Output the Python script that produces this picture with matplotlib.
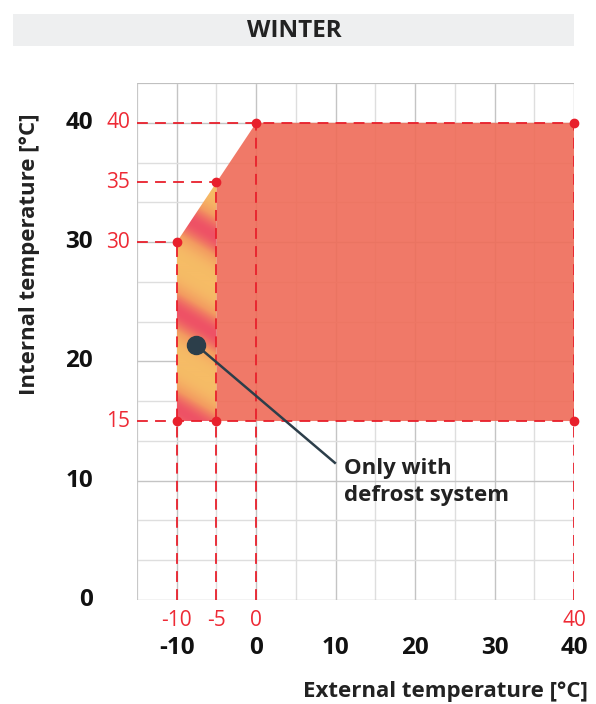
import numpy as np
import matplotlib
matplotlib.use("Agg")
import matplotlib.pyplot as plt
from matplotlib.patches import Polygon, Rectangle
from matplotlib.colors import LinearSegmentedColormap
import matplotlib.transforms as mtransforms

plt.rcParams['font.family'] = ['Open Sans', 'DejaVu Sans']

# ---- data ----
title = "WINTER"
x_label = "External temperature [°C]"
y_label = "Internal temperature [°C]"
ext_ticks = [-10, 0, 10, 20, 30, 40]
int_ticks = [0, 10, 20, 30, 40]
defrost_x = [-10, -10, -5, -5]
defrost_y = [15, 30, 35, 15]
main_x = [-5, -5, 0, 40, 40]
main_y = [15, 35, 40, 40, 15]
pts_x = [-10, -5, 0, 40, -10, -5, 40]
pts_y = [30, 35, 40, 40, 15, 15, 15]
red_x_labels = [-10, -5, 0, 40]
red_y_labels = [15, 30, 35, 40]
note_text = "Only with\ndefrost system"
note_xy = (-7.6, 21.4)
note_text_xy = (9.9, 11.5)

XMIN, XMAX = -15, 40
YMIN, YMAX = 0, 130 / 3

RED = '#E8202C'
RED_TXT = '#EE2A35'
FILL = '#EF6B57'
DARK = '#2C3E4A'

W, H = 596, 704
fig = plt.figure(figsize=(W / 100, H / 100), dpi=100)

# title band
fig.patches.append(Rectangle((13 / W, 1 - 46 / H), (574 - 13) / W, 32 / H,
                             transform=fig.transFigure, facecolor='#EEEFF0',
                             edgecolor='none', zorder=0))
fig.text(294 / W, 1 - 31 / H, title, ha='center', va='center',
         fontsize=17.5, fontweight='bold', color='#222222')

ax = fig.add_axes([137 / W, 1 - 600 / H, 437 / W, 517 / H])
ax.set_xlim(XMIN, XMAX)
ax.set_ylim(YMIN, YMAX)
for s in ax.spines.values():
    s.set_visible(False)
ax.set_xticks([])
ax.set_yticks([])

# grid
for xv in np.arange(-15, 40.1, 5):
    major = (xv % 10 == 0)
    ax.axvline(xv, color='#C4C4C4' if major else '#DEDEDE', lw=1.0, zorder=1)
for k in range(0, 14):
    yv = k * 10 / 3
    major = (k % 3 == 0)
    ax.axhline(yv, color='#C4C4C4' if major else '#DEDEDE', lw=1.0, zorder=1)
ax.axhline(YMAX, color='#BBBBBB', lw=1.2, zorder=1)
ax.axvline(XMIN, color='#C4C4C4', lw=1.2, zorder=1)

# main fill
ax.add_patch(Polygon(list(zip(main_x, main_y)), closed=True, facecolor=FILL,
                     edgecolor='none', alpha=0.9, zorder=2))

# defrost gradient
cmap = LinearSegmentedColormap.from_list('stripe', ['#F6BC66', '#F39A60', '#EE5266'])
gx = np.linspace(-10, -5, 200)
gy = np.linspace(15, 35, 600)
GX, GY = np.meshgrid(gx, gy)
s = -GY * 11.92 - 0.6 * GX * 7.94
s0 = -31.4 * 11.92 - 0.6 * (-7.5) * 7.94
val = (0.5 + 0.5 * np.cos(2 * np.pi * (s - s0) / 98.0)) ** 1.6
im = ax.imshow(val, extent=(-10, -5, 15, 35), origin='lower', cmap=cmap,
               aspect='auto', zorder=2, interpolation='bilinear', vmin=0, vmax=1)
clip = Polygon(list(zip(defrost_x, defrost_y)), closed=True, facecolor='none',
               edgecolor='none', transform=ax.transData)
ax.add_patch(clip)
im.set_clip_path(clip)

# red dashed guides
dash = dict(color=RED, lw=1.3, dashes=(6, 4), zorder=3)
ax.plot([XMIN, 40], [40, 40], **dash)
ax.plot([XMIN, -5], [35, 35], **dash)
ax.plot([XMIN, -10], [30, 30], **dash)
ax.plot([XMIN, 40], [15, 15], **dash)
ax.plot([-10, -10], [0, 30], **dash)
ax.plot([-5, -5], [0, 35], **dash)
ax.plot([0, 0], [0, 40], **dash)
ax.plot([40, 40], [0, 40], **dash)
ax.plot(pts_x, pts_y, 'o', color=RED, ms=6, zorder=4, clip_on=False)

# annotation
ax.plot([note_xy[0], note_text_xy[0]], [note_xy[1], note_text_xy[1]],
        color=DARK, lw=1.8, zorder=5)
ax.plot([note_xy[0]], [note_xy[1]], 'o', color=DARK, ms=13, zorder=6)
ax.text(note_text_xy[0] + 1.2, 11.9, note_text, ha='left', va='top',
        fontsize=16, fontweight='bold', color='#222222', linespacing=1.4, zorder=6)

# tick labels
def off(dx, dy):
    return mtransforms.offset_copy(ax.get_xaxis_transform(), fig=fig, x=dx, y=dy, units='dots')

def offy(dx, dy):
    return mtransforms.offset_copy(ax.get_yaxis_transform(), fig=fig, x=dx, y=dy, units='dots')

for v in ext_ticks:
    ax.text(v, 0, str(v), transform=off(0, -48), ha='center', va='center',
            fontsize=17.5, fontweight='bold', color='#111111')
for v in red_x_labels:
    ax.text(v, 0, str(v), transform=off(0, -20), ha='center', va='center',
            fontsize=15, color=RED_TXT)
for v in int_ticks:
    ax.text(0, v, str(v), transform=offy(-44, 0), ha='right', va='center',
            fontsize=17.5, fontweight='bold', color='#111111')
for v in red_y_labels:
    ax.text(0, v, str(v), transform=offy(-7, 0), ha='right', va='center',
            fontsize=15, color=RED_TXT)

fig.text(588 / W, 1 - 691 / H, x_label, ha='right', va='center',
         fontsize=16, fontweight='bold', color='#222222')
fig.text(30 / W, 1 - 254 / H, y_label, ha='center', va='center', rotation=90,
         fontsize=16, fontweight='bold', color='#222222')

fig.savefig('out.png', dpi=100)
